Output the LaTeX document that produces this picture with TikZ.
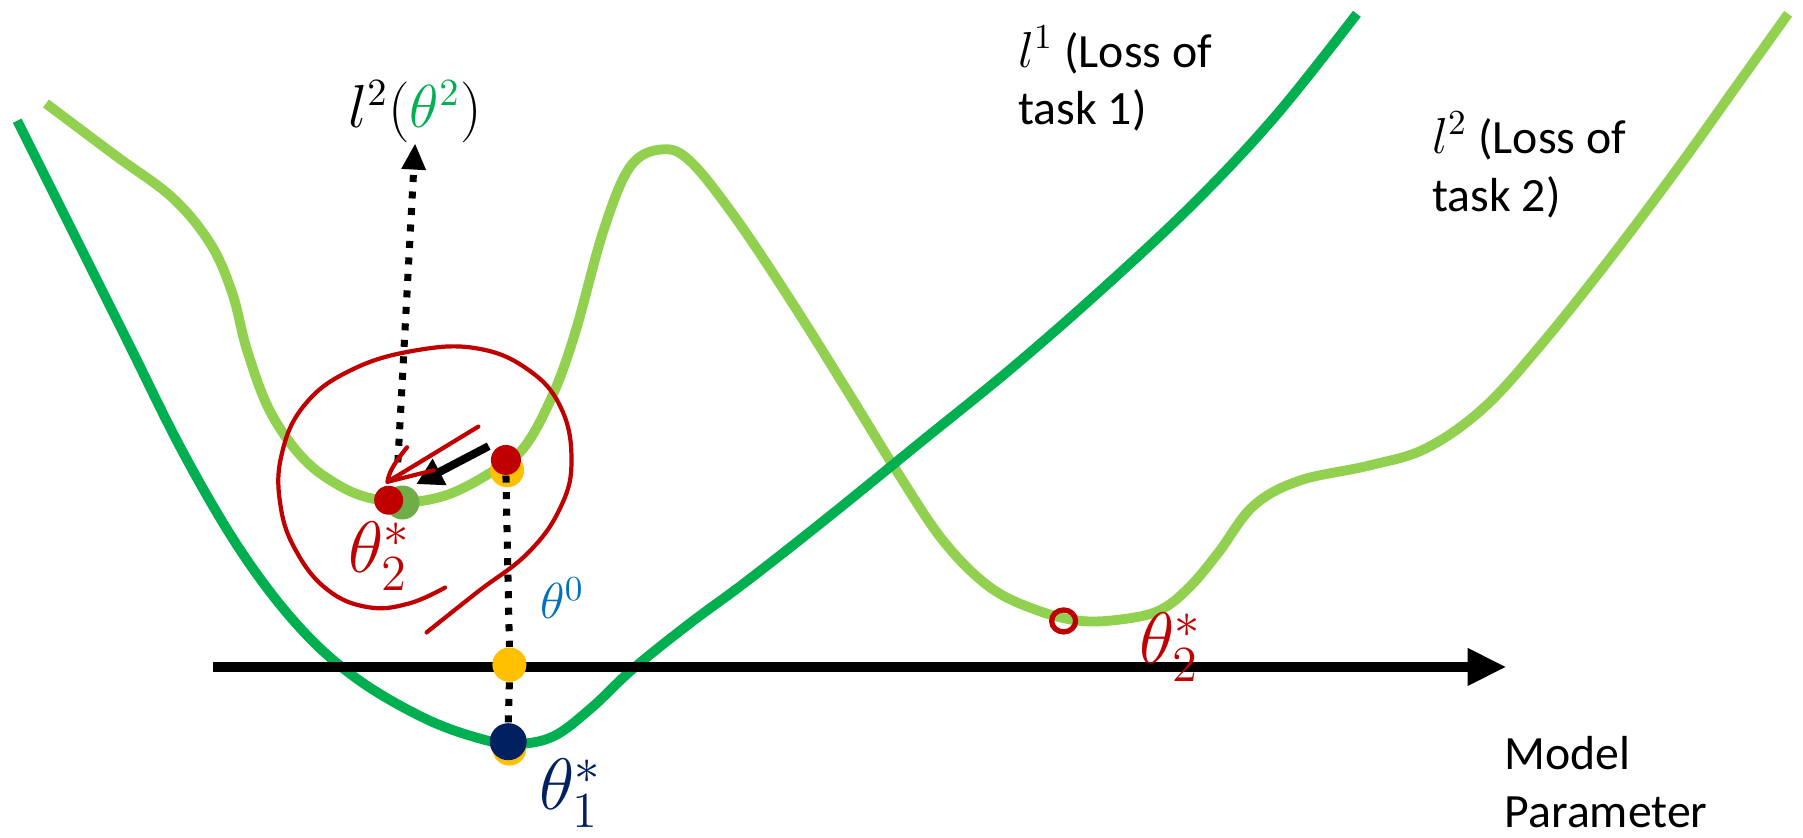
\documentclass[tikz,border=0pt]{standalone}
\usepackage{fontspec}
\setmainfont{Carlito}
\usetikzlibrary{arrows.meta}
\definecolor{lossone}{HTML}{00B050}
\definecolor{losstwo}{HTML}{92D050}
\definecolor{penred}{HTML}{C00000}
\definecolor{pennavy}{HTML}{002060}
\definecolor{dotyellow}{HTML}{FFC000}
\definecolor{dotgreen}{HTML}{70AD47}
\definecolor{thetablue}{HTML}{0070C0}

\begin{document}
\begin{tikzpicture}[
  x=0.0115cm, y=-0.0115cm,
  font=\fontsize{13.6}{16.5}\selectfont,
  curveone/.style={draw=lossone, line width=2.8pt},
  curvetwo/.style={draw=losstwo, line width=2.8pt},
  axisarrow/.style={-{Triangle[length=11pt,width=10pt]}, line width=2.6pt},
  dotline/.style={line width=2pt, dash pattern=on 2pt off 2.7pt},
  dotarrow/.style={dotline, -{Triangle[length=7.5pt,width=6.5pt]}},
  pusharrow/.style={-{Triangle[length=7.5pt,width=8pt]}, line width=2.3pt},
  ball/.style={circle, inner sep=0pt, minimum size=0.34cm},
  pen/.style={draw=penred, line width=1.2pt, line cap=round, line join=round},
  hand/.style={font=\fontsize{20}{24}\selectfont, inner sep=0pt},
  losstext/.style={align=left, anchor=north west, inner sep=0pt}
]
\useasboundingbox (0,0) rectangle (1568,728);

\draw[curvetwo] plot[smooth, tension=0.6] coordinates {(40,90) (100,135) (150,172) (183,212) (202,255) (215,305) (235,358) (265,400) (300,425) (330,435) (355,437) (390,430) (425,412) (455,390) (480,345) (500,290) (525,200) (548,145) (575,130) (600,140) (640,190) (690,265) (740,345) (780,410) (820,470) (860,510) (900,530) (940,540) (980,538) (1010,530) (1035,510) (1060,480) (1090,440) (1130,418) (1190,405) (1240,390) (1290,355) (1340,300) (1400,225) (1460,145) (1510,75) (1555,12)};
\draw[curveone] plot[smooth, tension=0.6] coordinates {(15,105) (60,195) (110,295) (160,395) (210,480) (260,545) (310,590) (370,625) (420,643) (450,647) (482,640) (515,615) (550,582) (600,542) (650,505) (720,450) (800,385) (880,320) (960,250) (1040,175) (1110,100) (1180,12)};

\node[ball, fill=dotyellow] (thetaaxis) at (443,578) {};
\node[ball, fill=dotyellow] (thetastartbase) at (441,409) {};
\node[ball, fill=penred, minimum size=0.3cm] (thetastart) at (440,400) {};
\node[ball, fill=dotyellow] (thetaonebase) at (443,651) {};
\node[ball, fill=pennavy, minimum size=0.37cm] (thetaone) at (442,645) {};
\node[ball, fill=dotgreen] (thetatwobase) at (350,437) {};
\node[ball, fill=penred, minimum size=0.29cm] (thetatwo) at (338,435) {};

\draw[dotline] (thetastart.south) -- (thetaaxis.north);
\draw[dotline] (thetaaxis.south) -- (thetaone.north);
\draw[axisarrow] (185,580) -- (1310,580);
\node[ball, fill=dotyellow] at (thetaaxis) {};

\node[font=\fontsize{16}{19}\selectfont, inner sep=0pt] (lossarg) at (361,97) {$l^2(\textcolor{lossone}{\theta^2})$};
\coordinate (arrowfoot) at (346,402);
\draw[dotarrow] (arrowfoot) -- (lossarg.south);

\coordinate (pushfrom) at (425,388);
\coordinate (pushto) at (362,421);
\draw[pusharrow] (pushfrom) -- (pushto);

\draw[pen] plot[smooth, tension=0.7] coordinates {(371,550) (415,515) (460,480) (488,440) (497,400) (488,355) (460,322) (415,303) (360,305) (305,322) (265,352) (245,395) (244,440) (258,480) (285,513) (320,528) (355,525) (387,511)};
\draw[pen] (354,389) .. controls (345,400) and (338,410) .. (337,419) -- (416,371);
\draw[pen] (337,419) -- (377,409);

\node[hand, text=penred] (thetatwostar) at (330,484) {$\theta_2^{*}$};
\node[hand, text=pennavy, font=\fontsize{22}{26}\selectfont] (thetaonestar) at (496,690) {$\theta_1^{*}$};
\node[font=\fontsize{14}{17}\selectfont, text=thetablue, inner sep=0pt] (thetazero) at (489,520) {$\theta^0$};

\draw[pen, line width=1.5pt] (925,540) ellipse [x radius=0.12cm, y radius=0.11cm];
\node[hand, text=penred] (thetatwofar) at (1018,563) {$\theta_2^{*}$};

\node[losstext] (lossone) at (885,22) {$l^1$ (Loss of\\task 1)};
\node[losstext] (losstwo) at (1245,97) {$l^2$ (Loss of\\task 2)};
\node[losstext] (modelparam) at (1308,640) {Model\\Parameter};
\end{tikzpicture}
\end{document}
